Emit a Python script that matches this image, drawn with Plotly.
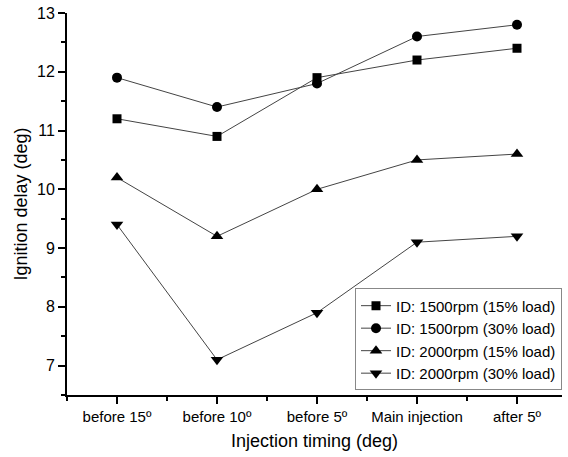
import plotly.graph_objects as go

categories = ["before 15º", "before 10º", "before 5º", "Main injection", "after 5º"]
s1500_15 = [11.2, 10.9, 11.9, 12.2, 12.4]
s1500_30 = [11.9, 11.4, 11.8, 12.6, 12.8]
s2000_15 = [10.2, 9.2, 10.0, 10.5, 10.6]
s2000_30 = [9.4, 7.1, 7.9, 9.1, 9.2]
names = ["ID: 1500rpm (15% load)", "ID: 1500rpm (30% load)",
         "ID: 2000rpm (15% load)", "ID: 2000rpm (30% load)"]
series = [s1500_15, s1500_30, s2000_15, s2000_30]
symbols = ["square", "circle", "triangle-up", "triangle-down"]
sizes = [9, 10, 11, 11]

xs = list(range(len(categories)))
fig = go.Figure()
for n, s, sym, sz in zip(names, series, symbols, sizes):
    fig.add_trace(go.Scatter(x=xs, y=s, name=n, mode="lines+markers",
                             line=dict(color="#444444", width=1),
                             marker=dict(symbol=sym, size=sz, color="black")))

font = "Liberation Sans, Arial, sans-serif"
fig.update_layout(
    width=568, height=457,
    margin=dict(l=67, r=6, t=13, b=62),
    paper_bgcolor="white", plot_bgcolor="white",
    font=dict(family=font, size=14, color="black"),
    showlegend=True,
    legend=dict(x=1.0, y=0.012, xanchor="right", yanchor="bottom",
                bordercolor="#888888", borderwidth=1, bgcolor="white",
                font=dict(size=15), tracegroupgap=0, itemwidth=30),
    xaxis=dict(range=[-0.5, 4.45], tickvals=xs, ticktext=categories,
               automargin=False,
               showline=True, linecolor="black", linewidth=2,
               ticks="outside", ticklen=7, tickwidth=1.5, tickcolor="black",
               showgrid=False, zeroline=False,
               minor=dict(tickvals=[-0.5, 0.5, 1.5, 2.5, 3.5], ticks="outside", ticklen=4,
                          tickwidth=1.5, tickcolor="black", showgrid=False),
               title=dict(text="Injection timing (deg)", font=dict(size=18), standoff=10),
               tickfont=dict(size=15)),
    yaxis=dict(range=[6.5, 13], tickvals=[7, 8, 9, 10, 11, 12, 13],
               automargin=False,
               showline=True, linecolor="black", linewidth=2,
               ticks="outside", ticklen=7, tickwidth=1.5, tickcolor="black",
               showgrid=False, zeroline=False,
               minor=dict(tickvals=[6.5, 7.5, 8.5, 9.5, 10.5, 11.5, 12.5], ticks="outside",
                          ticklen=4, tickwidth=1.5, tickcolor="black", showgrid=False),
               title=dict(text="Ignition delay (deg)", font=dict(size=18), standoff=5),
               tickfont=dict(size=16)),
)
fig.write_html("out.html", config={"displayModeBar": False},
               post_script="document.body.style.margin='0';document.body.style.overflow='hidden';")
